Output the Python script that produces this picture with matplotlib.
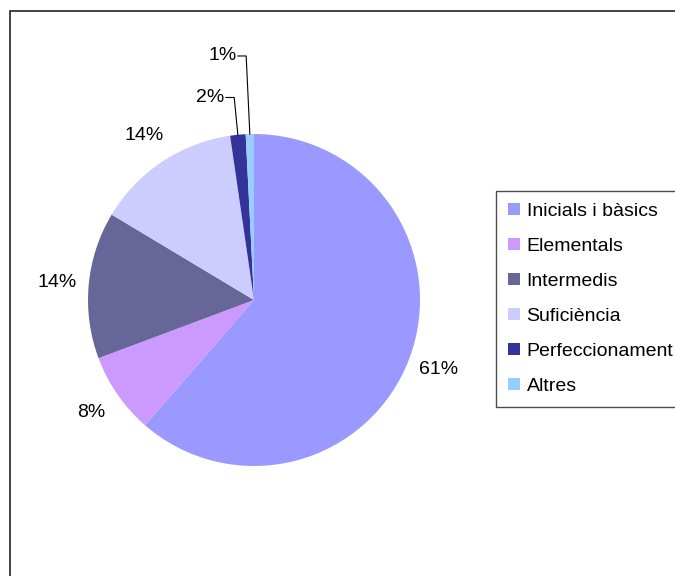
import numpy as np
import matplotlib
matplotlib.use("Agg")
import matplotlib.pyplot as plt
from matplotlib.patches import Rectangle

plt.rcParams["font.family"] = ["Liberation Sans", "DejaVu Sans"]

# Data
categories = ["Inicials i bàsics", "Elementals", "Intermedis",
              "Suficiència", "Perfeccionament", "Altres"]
values = [61.4, 7.9, 14.3, 14.1, 1.5, 0.8]
colors = ["#9999FF", "#CC99FF", "#666699", "#CCCCFF", "#333399", "#99CCFF"]

W, H = 675, 576
fig = plt.figure(figsize=(W / 100, H / 100), dpi=100)

# outer chart frame (runs off the right and bottom edges)
fig.patches.append(Rectangle((9.5 / W, -0.1), 1.2, 1.1 - 10.5 / H,
                             transform=fig.transFigure, fill=False,
                             edgecolor="#222222", linewidth=1.2))

# pie axes: centre (254, 300) px, radius 166 px
cx, cy, r = 254, 300, 166
ax = fig.add_axes([(cx - r) / W, (H - cy - r) / H, 2 * r / W, 2 * r / H])
wedges, _ = ax.pie(values, colors=colors, startangle=90, counterclock=False,
                   radius=1.0, wedgeprops=dict(linewidth=0))
ax.set_xlim(-1, 1)
ax.set_ylim(-1, 1)
ax.set_aspect("equal")
ax.axis("off")

# percentage labels
small_levels = {4: 1.22, 5: 1.47}
for i, (w, v) in enumerate(zip(wedges, values)):
    mid = np.deg2rad((w.theta1 + w.theta2) / 2)
    label = f"{v:.0f}%"
    if i in small_levels:
        ex, ey = np.cos(mid), np.sin(mid)
        ly = small_levels[i]
        kx = ex - 0.022
        ax.plot([ex, kx, kx - 0.05], [ey, ly, ly], color="black",
                linewidth=0.8, clip_on=False)
        ax.text(kx - 0.058, ly, label, ha="right", va="center", fontsize=14)
    else:
        ax.text(1.19 * np.cos(mid), 1.19 * np.sin(mid), label,
                ha="center", va="center", fontsize=14)

leg = fig.legend(wedges, categories, loc="upper left",
                 bbox_to_anchor=(496 / W, 1 - 191 / H),
                 bbox_transform=fig.transFigure, borderaxespad=0,
                 fontsize=14, frameon=True, fancybox=False,
                 handlelength=0.62, handleheight=0.62, handletextpad=0.35,
                 labelspacing=0.92, borderpad=0.6)
leg.get_frame().set_edgecolor("#222222")
leg.get_frame().set_linewidth(1.0)

fig.savefig("out.png", dpi=100)
